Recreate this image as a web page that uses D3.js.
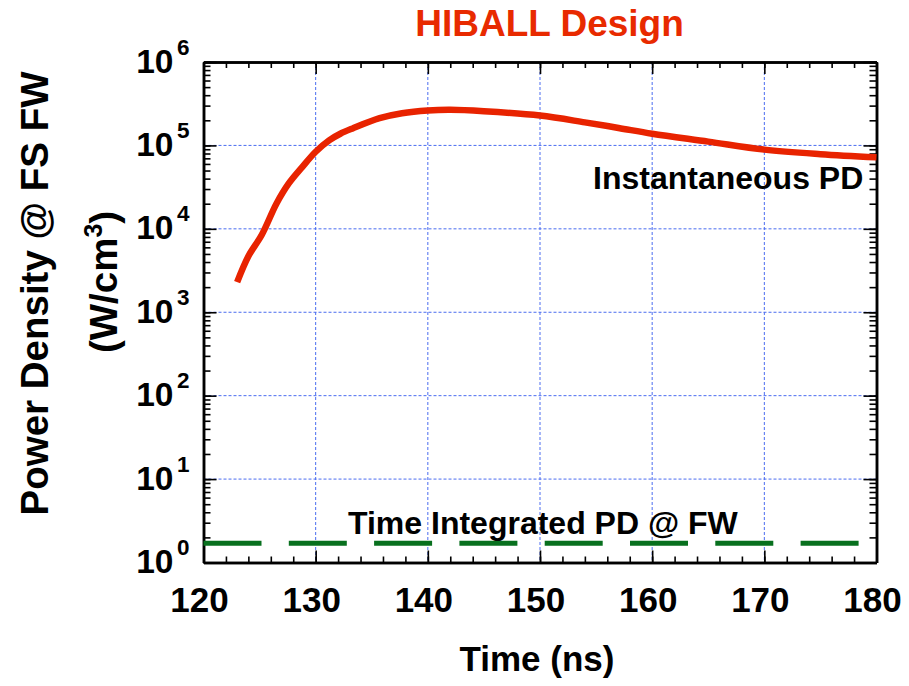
<!DOCTYPE html>
<html>
<head>
<meta charset="utf-8">
<script src="https://cdn.jsdelivr.net/npm/d3@7"></script>
<style>
  body { margin: 0; background: #fff; }
  text { font-family: "Liberation Sans", Arial, sans-serif; font-weight: bold; }
</style>
</head>
<body>
<div id="chart"></div>
<script>
// values
const timeNs = [123.0, 124.0, 125.2, 126.5, 127.6, 128.8, 130.0, 131.2, 132.2, 133.3, 135.7, 137.7, 140.0, 142.0, 145.0, 150.0, 154.0, 157.0, 160.0, 165.0, 170.0, 175.0, 180.0];
const instantPD = [2300, 4700, 8500, 20000, 35000, 55000, 84000, 115000, 138000, 160000, 212000, 243000, 262000, 267000, 257000, 228000, 189000, 162000, 138000, 111000, 89000, 78500, 72000];
const integTime = [120, 180];
const integPD = [1.7, 1.7];
const xTicks = [120, 130, 140, 150, 160, 170, 180];
const yExps = [0, 1, 2, 3, 4, 5, 6];

const width = 909, height = 686;
const margin = { left: 203.5, right: 909 - 876.5, top: 62, bottom: 686 - 562.5 };

const svg = d3.select("#chart").append("svg")
    .attr("width", width)
    .attr("height", height);

let x = d3.scaleLinear().domain([120, 180]).range([margin.left, width - margin.right]);
let y = d3.scaleLog().domain([1, 1e6]).range([height - margin.bottom, margin.top]);

const x0 = margin.left, x1 = width - margin.right;
const y0 = height - margin.bottom, y1 = margin.top;

// grid
const grid = svg.append("g").attr("stroke", "#4a6cf0").attr("stroke-width", 1).attr("stroke-dasharray", "3,2");
grid.selectAll(".vg").data(xTicks.slice(1, -1)).join("line")
    .attr("x1", d => x(d)).attr("x2", d => x(d))
    .attr("y1", y1).attr("y2", y0);
grid.selectAll(".hg").data(yExps.slice(1, -1)).join("line")
    .attr("y1", d => y(Math.pow(10, d))).attr("y2", d => y(Math.pow(10, d)))
    .attr("x1", x0).attr("x2", x1);

// ticks
let minorX = d3.range(120, 181, 2);
let minorY = y.ticks();
let majorY = yExps.map(e => Math.pow(10, e));

function styleAxis(g) {
    g.selectAll("text").remove();
    g.selectAll("path").attr("stroke", "#000").attr("stroke-width", 2.5);
    g.selectAll("line").attr("stroke", "#000").attr("stroke-width", 1.6);
}

svg.append("g").attr("transform", `translate(0,${y0})`)
    .call(d3.axisBottom(x).tickValues(minorX).tickSize(-6).tickSizeOuter(0)).call(styleAxis);
svg.append("g").attr("transform", `translate(0,${y0})`)
    .call(d3.axisBottom(x).tickValues(xTicks).tickSize(-12).tickSizeOuter(0)).call(styleAxis);
svg.append("g").attr("transform", `translate(0,${y1})`)
    .call(d3.axisTop(x).tickValues(minorX).tickSize(-6).tickSizeOuter(0)).call(styleAxis);
svg.append("g").attr("transform", `translate(0,${y1})`)
    .call(d3.axisTop(x).tickValues(xTicks).tickSize(-12).tickSizeOuter(0)).call(styleAxis);
svg.append("g").attr("transform", `translate(${x0},0)`)
    .call(d3.axisLeft(y).tickValues(minorY).tickSize(-7).tickSizeOuter(0)).call(styleAxis);
svg.append("g").attr("transform", `translate(${x0},0)`)
    .call(d3.axisLeft(y).tickValues(majorY).tickSize(-13).tickSizeOuter(0)).call(styleAxis);
svg.append("g").attr("transform", `translate(${x1},0)`)
    .call(d3.axisRight(y).tickValues(minorY).tickSize(-7).tickSizeOuter(0)).call(styleAxis);
svg.append("g").attr("transform", `translate(${x1},0)`)
    .call(d3.axisRight(y).tickValues(majorY).tickSize(-13).tickSizeOuter(0)).call(styleAxis);

// tick labels
svg.append("g").selectAll("text").data(xTicks).join("text")
    .attr("x", d => x(d) - 4).attr("y", 612)
    .attr("text-anchor", "middle").attr("font-size", 35)
    .text(d => d);
const yl = svg.append("g").selectAll("g").data(yExps).join("g");
yl.append("text")
    .attr("x", 173.5).attr("y", d => y(Math.pow(10, d)) + 10.5)
    .attr("text-anchor", "end").attr("font-size", 33.5)
    .text("10");
yl.append("text")
    .attr("x", 177).attr("y", d => y(Math.pow(10, d)) - 7.5)
    .attr("font-size", 22.5)
    .text(d => d);

// series
let line = d3.line().x(d => x(d[0])).y(d => y(d[1]));
svg.append("path")
    .datum(integTime.map((t, i) => [t, integPD[i]]))
    .attr("d", line)
    .attr("fill", "none").attr("stroke", "#08701e").attr("stroke-width", 5)
    .attr("stroke-dasharray", "58,27.3");
svg.append("path")
    .datum(timeNs.map((t, i) => [t, instantPD[i]]))
    .attr("d", line.curve(d3.curveCatmullRom.alpha(0.5)))
    .attr("fill", "none").attr("stroke", "#e82300").attr("stroke-width", 6.5)
    .attr("stroke-linecap", "butt");

// annotations and titles
svg.append("text").attr("x", 593).attr("y", 189).attr("font-size", 32).text("Instantaneous PD");
svg.append("text").attr("x", 348).attr("y", 534).attr("font-size", 32).text("Time Integrated PD @ FW");
svg.append("text").attr("x", 549.5).attr("y", 36).attr("text-anchor", "middle")
    .attr("font-size", 37).attr("fill", "#e82a00").text("HIBALL Design");
svg.append("text").attr("x", 537).attr("y", 671).attr("text-anchor", "middle")
    .attr("font-size", 35).text("Time (ns)");

const ytitle = svg.append("g").attr("transform", "rotate(-90)");
ytitle.append("text").attr("x", -293.5).attr("y", 48).attr("text-anchor", "middle")
    .attr("font-size", 38.5).text("Power Density @ FS FW");
let unit = ytitle.append("text").attr("x", -282).attr("y", 117).attr("text-anchor", "middle")
    .attr("font-size", 38.5);
unit.append("tspan").text("(W/cm");
unit.append("tspan").attr("dy", -15).attr("font-size", 25).text("3");
unit.append("tspan").attr("dy", 15).text(")");
</script>
</body>
</html>
